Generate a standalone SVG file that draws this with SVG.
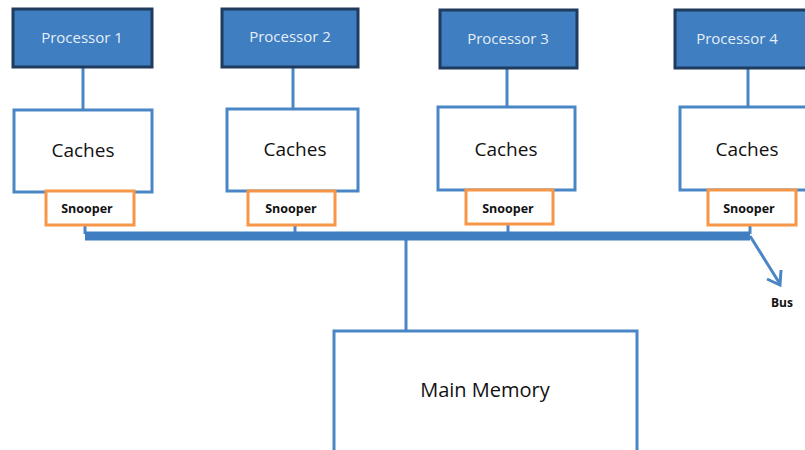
<svg xmlns="http://www.w3.org/2000/svg" width="805" height="450" viewBox="0 0 805 450">
<defs>
<style>
.proc{fill:#3E7EC1;stroke:#1F3B5E;stroke-width:3}
.cache{fill:#fff;stroke:#4A86C5;stroke-width:3}
.snoop{fill:#fff;stroke:#F79646;stroke-width:3}
.ln{stroke:#4A86C5;stroke-width:3;fill:none}
.pt{font-family:"Open Sans","Liberation Sans",sans-serif;font-size:15px;fill:#E6EEF7;text-anchor:middle}
.ct{font-family:"Open Sans","Liberation Sans",sans-serif;font-size:19px;fill:#111;text-anchor:middle}
.st{font-family:"Open Sans","Liberation Sans",sans-serif;font-size:12.5px;font-weight:bold;fill:#111;text-anchor:middle}
</style>
</defs>
<rect width="805" height="450" fill="#fff"/>
<g id="connectors">
<line class="ln" x1="83" y1="67" x2="83" y2="110"/>
<line class="ln" x1="293" y1="67" x2="293" y2="109"/>
<line class="ln" x1="507" y1="68" x2="507" y2="107"/>
<line class="ln" x1="748" y1="68" x2="748" y2="107"/>
<line class="ln" x1="85" y1="225" x2="85" y2="234"/>
<line class="ln" x1="295" y1="225" x2="295" y2="233"/>
<line class="ln" x1="508" y1="224" x2="508" y2="233"/>
<line class="ln" x1="750" y1="225" x2="750" y2="234"/>
<line class="ln" x1="406" y1="236" x2="406" y2="331"/>
<path d="M85,236 H750" stroke="#3E7EC1" stroke-width="9" fill="none"/>
<path class="ln" d="M750,236 L780,284"/>
<path class="ln" d="M767,279 L780,285 L781,270"/>
</g>
<g id="p1"><rect class="proc" x="13" y="9" width="139" height="58"/><text class="pt" x="82" y="43">Processor 1</text></g>
<g id="p2"><rect class="proc" x="222" y="9" width="136" height="58"/><text class="pt" x="290" y="42">Processor 2</text></g>
<g id="p3"><rect class="proc" x="440" y="10" width="137" height="58"/><text class="pt" x="508" y="44">Processor 3</text></g>
<g id="p4"><rect class="proc" x="675" y="10" width="135" height="58"/><text class="pt" x="737" y="44">Processor 4</text></g>
<g id="c1"><rect class="cache" x="14" y="110" width="138" height="82"/><text class="ct" x="83" y="157">Caches</text></g>
<g id="c2"><rect class="cache" x="227" y="109" width="131" height="82"/><text class="ct" x="295" y="156">Caches</text></g>
<g id="c3"><rect class="cache" x="438" y="107" width="137" height="83"/><text class="ct" x="506" y="156">Caches</text></g>
<g id="c4"><rect class="cache" x="680" y="107" width="130" height="83"/><text class="ct" x="747" y="156">Caches</text></g>
<g id="s1"><rect class="snoop" x="46" y="191" width="88" height="34"/><text class="st" x="87" y="213">Snooper</text></g>
<g id="s2"><rect class="snoop" x="248" y="191" width="87" height="34"/><text class="st" x="291" y="213">Snooper</text></g>
<g id="s3"><rect class="snoop" x="466" y="190" width="87" height="34"/><text class="st" x="508" y="213">Snooper</text></g>
<g id="s4"><rect class="snoop" x="708" y="190" width="88" height="35"/><text class="st" x="749" y="213">Snooper</text></g>
<g id="mem"><rect class="cache" x="334" y="331" width="303" height="130"/><text class="ct" x="485" y="397" style="font-size:20px">Main Memory</text></g>
<g id="buslabel"><text class="st" x="782" y="307" style="font-size:12px">Bus</text></g>
</svg>
